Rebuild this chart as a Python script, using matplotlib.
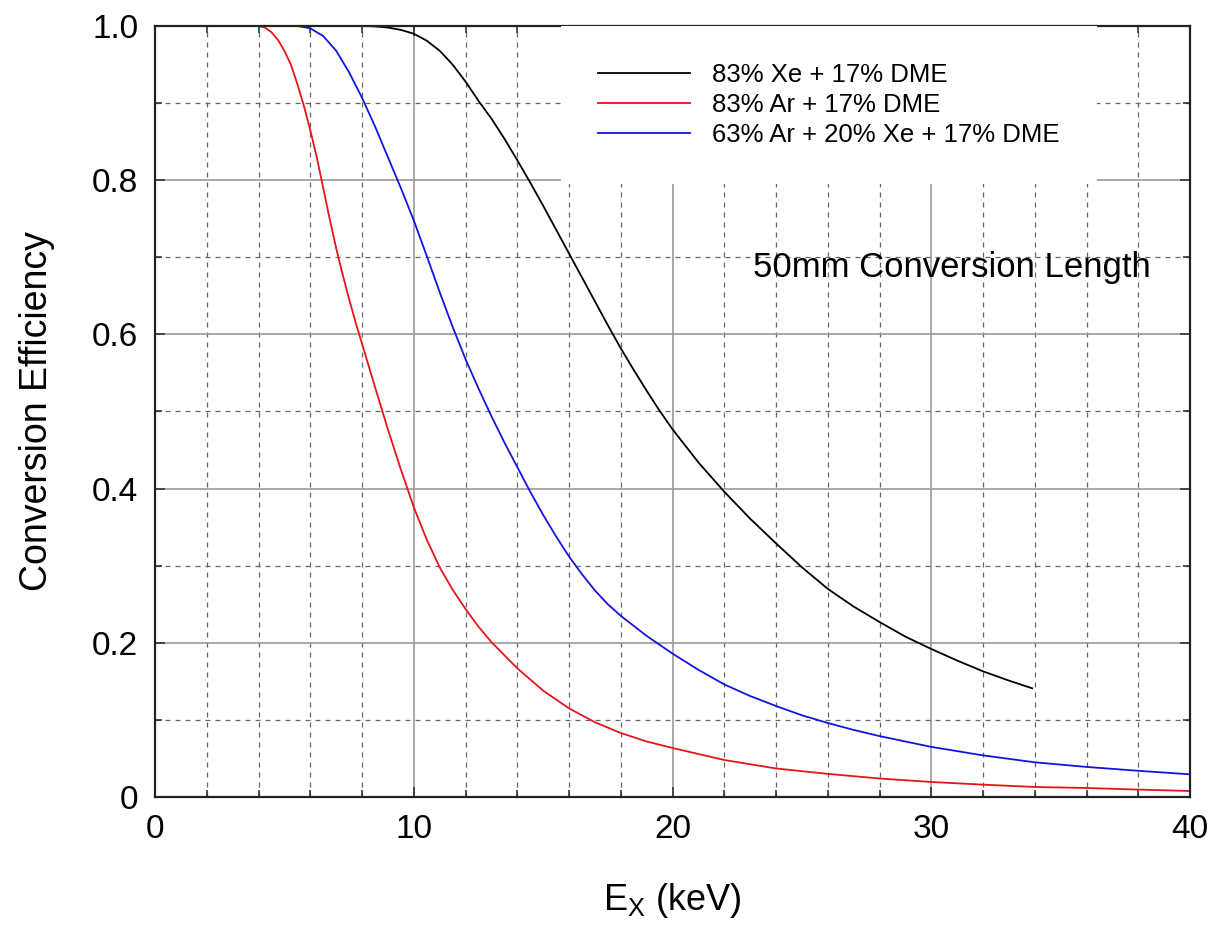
import matplotlib.pyplot as plt
from matplotlib.ticker import MultipleLocator, FixedLocator, FixedFormatter

plt.rcParams['font.family'] = ['Liberation Sans', 'DejaVu Sans']
plt.rcParams['mathtext.fontset'] = 'custom'
plt.rcParams['mathtext.rm'] = 'Liberation Sans'

# 83% Xe + 17% DME (stops just below the Xe K edge)
xe_energia = [8, 8.5, 9, 9.5, 10, 10.5, 11, 11.5, 12, 12.5, 13, 13.5, 14, 14.5, 15,
              15.5, 16, 16.5, 17, 17.5, 18, 18.5, 19, 19.5, 20, 21, 22, 23, 24,
              25, 26, 27, 28, 29, 30, 31, 32, 33, 33.9]
xe_eficiencia = [1.0, 0.9995, 0.998, 0.995, 0.990, 0.981, 0.968, 0.95, 0.928, 0.903,
                 0.88, 0.854, 0.826, 0.797, 0.767, 0.736, 0.705, 0.674, 0.643, 0.612,
                 0.582, 0.554, 0.527, 0.501, 0.477, 0.434, 0.396, 0.361, 0.329, 0.298,
                 0.270, 0.247, 0.227, 0.208, 0.192, 0.177, 0.163, 0.151, 0.141]

# 83% Ar + 17% DME
ar_energia = [4, 4.25, 4.5, 4.75, 5, 5.25, 5.5, 5.75, 6, 6.25, 6.5, 6.75, 7, 7.25,
              7.5, 7.75, 8, 8.5, 9, 9.5, 10, 10.5, 11, 11.5, 12, 12.5, 13, 14, 15,
              16, 17, 18, 19, 20, 22, 24, 26, 28, 30, 32, 34, 36, 38, 40]
ar_eficiencia = [1.0, 0.998, 0.992, 0.982, 0.968, 0.95, 0.925, 0.897, 0.865, 0.83,
                 0.79, 0.75, 0.712, 0.678, 0.646, 0.616, 0.588, 0.532, 0.477, 0.425,
                 0.376, 0.334, 0.298, 0.269, 0.244, 0.221, 0.201, 0.167, 0.138, 0.115,
                 0.097, 0.083, 0.072, 0.0636, 0.048, 0.037, 0.030, 0.024, 0.0195,
                 0.016, 0.013, 0.0117, 0.0096, 0.0078]

# 63% Ar + 20% Xe + 17% DME
mezcla_energia = [5.5, 6, 6.5, 7, 7.5, 8, 8.5, 9, 9.5, 10, 10.5, 11, 11.5, 12, 12.5,
                  13, 13.5, 14, 14.5, 15, 15.5, 16, 16.5, 17, 17.5, 18, 19, 20, 21,
                  22, 23, 24, 25, 26, 27, 28, 29, 30, 32, 34, 36, 38, 40]
mezcla_eficiencia = [1.0, 0.997, 0.987, 0.968, 0.94, 0.907, 0.87, 0.83, 0.79, 0.748,
                     0.702, 0.655, 0.61, 0.568, 0.53, 0.494, 0.46, 0.428, 0.396, 0.366,
                     0.338, 0.312, 0.289, 0.268, 0.25, 0.235, 0.209, 0.186, 0.165,
                     0.146, 0.131, 0.118, 0.106, 0.096, 0.087, 0.079, 0.072, 0.065,
                     0.054, 0.045, 0.039, 0.034, 0.0294]

etiquetas = ['83% Xe + 17% DME', '83% Ar + 17% DME', '63% Ar + 20% Xe + 17% DME']
y_ticks = [0, 0.2, 0.4, 0.6, 0.8, 1.0]
y_etiquetas = ['0', '0.2', '0.4', '0.6', '0.8', '1.0']

fig = plt.figure(figsize=(12.14, 9.26), dpi=100)
ax = fig.add_axes([155 / 1214, 1 - 797 / 926, 1035 / 1214, 771 / 926])

ax.plot(xe_energia, xe_eficiencia, color='black', lw=1.3, label=etiquetas[0])
ax.plot(ar_energia, ar_eficiencia, color='#e8141c', lw=1.3, label=etiquetas[1])
ax.plot(mezcla_energia, mezcla_eficiencia, color='#1414e0', lw=1.3, label=etiquetas[2])

ax.set_xlim(0, 40)
ax.set_ylim(0, 1.0)
ax.xaxis.set_major_locator(MultipleLocator(10))
ax.xaxis.set_minor_locator(MultipleLocator(2))
ax.yaxis.set_major_locator(FixedLocator(y_ticks))
ax.yaxis.set_major_formatter(FixedFormatter(y_etiquetas))
ax.yaxis.set_minor_locator(MultipleLocator(0.1))

ax.grid(which='major', color='#9a9a9a', lw=1.2, ls='-')
ax.grid(which='minor', color='#666666', lw=0.9, ls=(0, (4, 4)))
ax.set_axisbelow(True)

ax.tick_params(which='both', direction='in', top=True, right=True, width=1.2,
               color='#333333')
ax.tick_params(which='major', length=7, labelsize=24, pad=12)
ax.tick_params(which='minor', length=5)
for s in ax.spines.values():
    s.set_linewidth(1.6)
    s.set_color('#222222')

ax.set_xlabel(r'E$_\mathregular{X}$ (keV)', fontsize=26, labelpad=26)
ax.set_ylabel('Conversion Efficiency', fontsize=27, labelpad=27)

ax.text(23.1, 0.674, '50mm Conversion Length', fontsize=25, va='baseline')

leg = ax.legend(loc='upper left', bbox_to_anchor=(0.392, 1.0), borderaxespad=0,
                fontsize=18.5, handlelength=3.6, handletextpad=0.85,
                labelspacing=0.22, borderpad=1.45, frameon=True, fancybox=False,
                framealpha=1)
leg.get_frame().set_edgecolor('none')
leg.get_frame().set_facecolor('white')

fig.savefig('out.png', dpi=100)
